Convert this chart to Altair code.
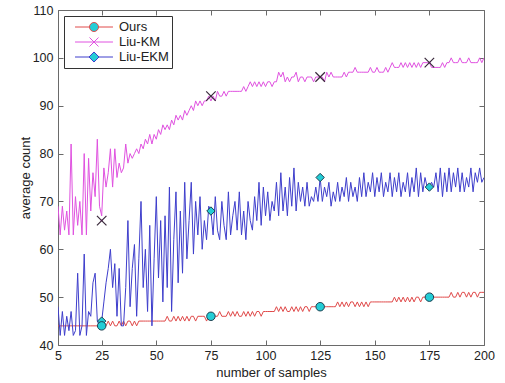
import altair as alt
import pandas as pd

# ---------------- data ----------------
samples = list(range(5, 201))

ours = (
    [44] * 23
    + [45, 44, 45, 44, 44, 45, 44, 45, 44, 45, 45, 44, 45, 44, 45]
    + [45] * 12
    + [46, 45]
    + [45, 46, 45, 46, 45, 46, 45, 46, 45, 46, 46, 45, 46]
    + [46, 46, 46, 45, 46, 46, 46, 46]
    + [46, 47, 46]
    + [46, 46]
    + [47, 46, 47, 46, 47, 46, 46, 47, 46, 47, 46, 47, 46, 47]
    + [47, 46]
    + [47] * 6
    + [48]
    + [47]
    + [48, 47, 48, 47, 47, 48, 47, 48, 47, 48, 47, 48, 48, 47]
    + [48] * 12
    + [49, 48, 49, 48, 49, 48, 49, 49, 48, 49, 48, 49, 48, 49, 48, 49]
    + [49] * 10
    + [50, 49, 50, 49, 50, 49, 50, 49, 50, 49, 50, 50, 49, 50, 50]
    + [50] * 11
    + [51, 50]
    + [50, 51, 50, 51, 51, 50, 51, 50, 51, 51, 50, 51, 51, 51]
)

liu_km = [
    69, 63, 69, 64, 68, 63, 82, 63, 71, 65,
    70, 63, 80, 63, 79, 68, 76, 71, 83, 69,
    67, 77, 73, 76, 81, 73, 81, 75, 78, 76,
    77, 82, 78, 80, 79, 80, 81, 80, 82, 81,
    83, 82, 84, 82, 84, 83, 85, 84, 86, 85,
    86, 85, 87, 86, 88, 87, 88, 87, 89, 88,
    89, 90, 89, 91, 90, 91, 90, 91, 91, 92,
    91, 92, 91, 93, 92, 92, 93, 92, 93, 93,
    93, 93, 93, 93, 93, 94, 93, 94, 95, 94,
    95, 94, 95, 94, 95, 94, 95, 95, 94, 95,
    95, 97, 96, 97, 95, 96, 95, 96, 96, 97,
    95, 96, 96, 95, 96, 96, 96, 95, 96, 96,
    96, 96, 95, 97, 96, 97, 96, 96, 96, 96,
    96, 97, 96, 97, 97, 97, 98, 97, 97, 97,
    97, 97, 97, 98, 97, 97, 98, 97, 97, 97,
    98, 97, 98, 99, 98, 98, 98, 99, 98, 99,
    98, 99, 98, 99, 98, 99, 98, 99, 99, 99,
    99, 98, 98, 98, 98, 98, 99, 98, 99, 99,
    100, 99, 99, 99, 100, 99, 99, 99, 100, 99,
    99, 99, 99, 100, 99, 100,
]

liu_ekm = [
    48, 42, 47, 42, 46, 43, 47, 42, 43, 55,
    42, 44, 59, 42, 47, 46, 53, 55, 45, 44,
    45, 49, 53, 56, 60, 52, 57, 46, 56, 44,
    44, 52, 66, 48, 56, 61, 46, 58, 70, 52,
    60, 47, 65, 44, 58, 71, 54, 66, 49, 67,
    52, 73, 47, 62, 72, 53, 68, 55, 74, 58,
    66, 74, 59, 70, 63, 71, 60, 66, 62, 69,
    68, 63, 71, 64, 62, 70, 65, 62, 72, 63,
    67, 70, 64, 72, 63, 68, 62, 70, 66, 64,
    71, 66, 74, 65, 73, 67, 72, 66, 70, 68,
    74, 67, 76, 68, 73, 67, 75, 69, 77, 68,
    74, 70, 73, 69, 74, 69, 71, 70, 73, 70,
    75, 70, 73, 71, 74, 69, 72, 70, 74, 70,
    73, 71, 75, 70, 74, 71, 73, 70, 75, 71,
    76, 71, 74, 72, 76, 71, 75, 72, 76, 71,
    74, 72, 76, 71, 75, 72, 76, 71, 74, 72,
    76, 71, 75, 72, 77, 71, 76, 72, 75, 73,
    73, 74, 73, 76, 72, 77, 71, 76, 72, 77,
    72, 76, 73, 77, 72, 76, 72, 75, 73, 77,
    72, 76, 74, 77, 74, 75,
]

marker_x = [25, 75, 125, 175]
ours_marks = [44, 46, 48, 50]
km_marks = [66, 92, 96, 99]
ekm_marks = [45, 68, 75, 73]

series_names = ["Ours", "Liu-KM", "Liu-EKM"]
series_colors = ["#e04a4a", "#e052e0", "#3e3ecc"]
x_ticks = [5, 25, 50, 75, 100, 125, 150, 175, 200]
y_ticks = [40, 50, 60, 70, 80, 90, 100, 110]

# ---------------- tables ----------------
ours_line_df = pd.DataFrame({"x": samples, "y": ours})
km_line_df = pd.DataFrame({"x": samples, "y": liu_km})
ekm_line_df = pd.DataFrame({"x": samples, "y": liu_ekm})
ours_df = pd.DataFrame({"x": marker_x, "y": ours_marks})
km_df = pd.DataFrame({"x": marker_x, "y": km_marks})
ekm_df = pd.DataFrame({"x": marker_x, "y": ekm_marks})
marks_df = pd.DataFrame({
    "x": marker_x * 3,
    "y": ours_marks + km_marks + ekm_marks,
    "series": ["Ours"] * 4 + ["Liu-KM"] * 4 + ["Liu-EKM"] * 4,
})

FONT = "Liberation Sans"
TXT = "#222222"
FRAME = "#6a6a6a"
CYAN = "#24cdd6"
EDGE = "#1d3f4f"

xscale = alt.Scale(domain=[5, 200], nice=False, zero=False)
yscale = alt.Scale(domain=[40, 110], nice=False, zero=False)

ax_bottom = alt.Axis(orient="bottom", values=x_ticks, offset=-5, tickSize=5,
                     domain=False, grid=False, labelPadding=4, labelFlush=False,
                     title="number of samples", titlePadding=5)
ax_left = alt.Axis(orient="left", values=y_ticks, offset=-5, tickSize=5,
                   domain=False, grid=False, labelPadding=5,
                   title="average count", titlePadding=0)
ax_top = alt.Axis(orient="top", values=x_ticks, offset=-5, tickSize=5,
                  domain=False, grid=False, labels=False, title=None)
ax_right = alt.Axis(orient="right", values=y_ticks, offset=-5, tickSize=5,
                    domain=False, grid=False, labels=False, title=None)


def line_layer(df, color, axis_x=None, axis_y=None):
    return alt.Chart(df).mark_line(strokeWidth=1, clip=True, color=color).encode(
        x=alt.X("x:Q", scale=xscale, axis=axis_x),
        y=alt.Y("y:Q", scale=yscale, axis=axis_y),
    )


ours_line = line_layer(ours_line_df, series_colors[0], ax_bottom, ax_left)
km_line = line_layer(km_line_df, series_colors[1])
ekm_line = line_layer(ekm_line_df, series_colors[2])

# legend carrier: tiny points under the real markers; the legend shows line + marker symbols
legend_paths = [
    "M-2.53,0H-0.6A0.6,0.6 0 1,1 0.6,0H2.53M0.6,0A0.6,0.6 0 1,1 -0.6,0",
    "M-2.53,0H2.53M-0.6,-0.6L0.6,0.6M-0.6,0.6L0.6,-0.6",
    "M-2.53,0H-0.67L0,-0.67L0.67,0H2.53M0.67,0L0,0.67L-0.67,0",
]
legend_fill = [CYAN, "transparent", CYAN]

leg = alt.Legend(orient="top-left", offset=6, title=None, labelFont=FONT, labelFontSize=13,
                 labelColor=TXT, symbolSize=225, symbolStrokeWidth=1, symbolOpacity=1,
                 strokeColor="#333333", fillColor="white", padding=3, rowPadding=0,
                 symbolOffset=19, labelOffset=17)

legend_layer = alt.Chart(marks_df).mark_point(size=1).encode(
    x=alt.X("x:Q", scale=xscale, axis=None),
    y=alt.Y("y:Q", scale=yscale, axis=None),
    shape=alt.Shape("series:N", scale=alt.Scale(domain=series_names, range=legend_paths), legend=leg),
    fill=alt.Fill("series:N", scale=alt.Scale(domain=series_names, range=legend_fill), legend=leg),
    stroke=alt.Stroke("series:N", scale=alt.Scale(domain=series_names, range=series_colors), legend=leg),
)

ours_pts = alt.Chart(ours_df).mark_point(
    shape="circle", filled=True, size=72, fill=CYAN, stroke=EDGE, strokeWidth=1, opacity=1
).encode(
    x=alt.X("x:Q", scale=xscale, axis=ax_top),
    y=alt.Y("y:Q", scale=yscale, axis=ax_right),
)

ekm_pts = alt.Chart(ekm_df).mark_point(
    shape="diamond", filled=True, size=70, fill=CYAN, stroke=EDGE, strokeWidth=1, opacity=1
).encode(
    x=alt.X("x:Q", scale=xscale, axis=None),
    y=alt.Y("y:Q", scale=yscale, axis=None),
)

km_pts = alt.Chart(km_df).mark_point(
    shape="M-1,-1L1,1M-1,1L1,-1", filled=False, size=90, stroke="#3a2a3c", strokeWidth=1.2, opacity=1
).encode(
    x=alt.X("x:Q", scale=xscale, axis=None),
    y=alt.Y("y:Q", scale=yscale, axis=None),
)

chart = alt.layer(ours_line, km_line, ekm_line, legend_layer, ekm_pts, km_pts, ours_pts).resolve_axis(
    x="independent", y="independent"
).properties(
    width=426, height=335,
    autosize=alt.AutoSizeParams(type="none"),
    padding={"left": 58, "top": 10, "right": 21, "bottom": 38},
    background="white",
).configure_view(
    stroke=FRAME, strokeWidth=1
).configure_axis(
    labelFont=FONT, labelFontSize=12.5, labelColor=TXT,
    titleFont=FONT, titleFontSize=13, titleColor=TXT, titleFontWeight="normal",
    tickColor=FRAME, tickWidth=1,
)

chart.save("out.html", embed_options={"renderer": "svg", "actions": False})
